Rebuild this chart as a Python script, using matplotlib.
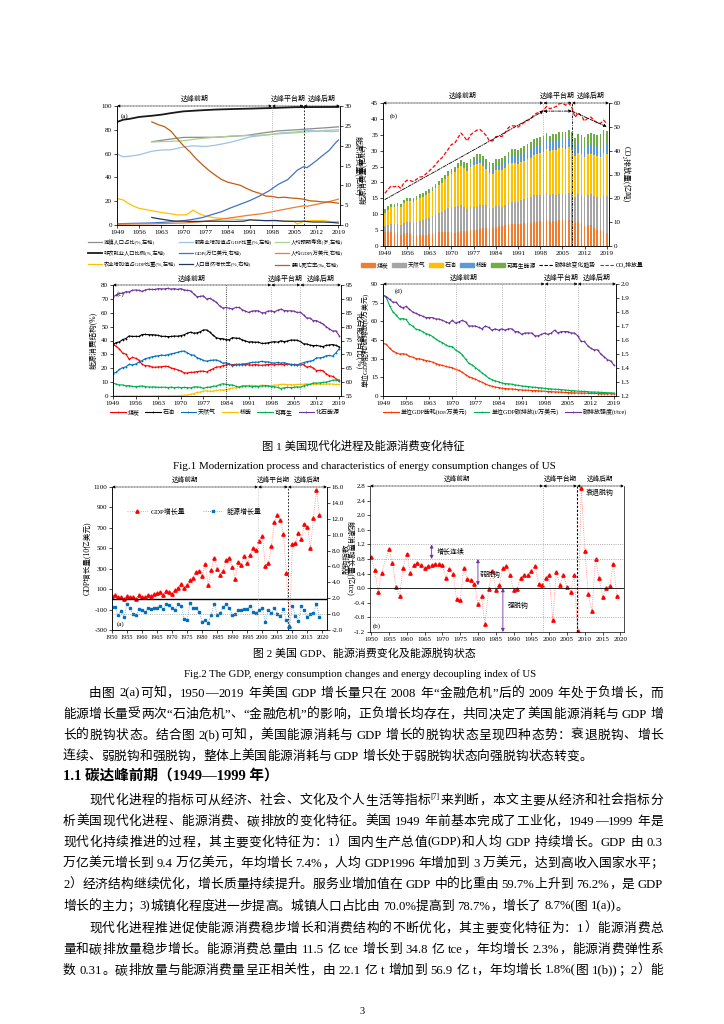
import matplotlib
matplotlib.use('Agg')
import numpy as np
import matplotlib.pyplot as plt
from matplotlib.lines import Line2D
from matplotlib.patches import Patch

plt.rcParams['font.family'] = ['Liberation Serif', 'Noto Sans CJK SC', 'DejaVu Sans']
plt.rcParams['axes.unicode_minus'] = False
plt.rcParams['axes.linewidth'] = 0.5
plt.rcParams['xtick.major.width'] = 0.5
plt.rcParams['ytick.major.width'] = 0.5
plt.rcParams['xtick.major.size'] = 2
plt.rcParams['ytick.major.size'] = 2
plt.rcParams['xtick.labelsize'] = 5
plt.rcParams['ytick.labelsize'] = 5
plt.rcParams['xtick.major.pad'] = 1.5
plt.rcParams['ytick.major.pad'] = 1.5

W, H = 724, 1024

# ---------------- 图1(a) 现代化指标 ----------------
yrs_nonagri = [1949, 1951, 1953, 1956, 1960, 1963, 1966, 1970, 1975, 1980, 1985, 1991, 1998, 2005, 2012, 2019]
nonagri = [86.6, 88.5, 89.2, 90.8, 91.8, 92.7, 94.0, 95.5, 96.3, 97.0, 97.4, 97.8, 98.3, 99.0, 99.1, 99.2]
yrs_urban = [1960, 1965, 1970, 1975, 1980, 1985, 1990, 1995, 2000, 2005, 2010, 2015, 2019]
urban = [70.0, 71.9, 73.6, 73.7, 73.7, 74.5, 75.3, 77.3, 79.1, 79.9, 80.8, 81.7, 82.5]
yrs_life = [1960, 1965, 1970, 1975, 1980, 1985, 1990, 1995, 2000, 2005, 2010, 2014, 2017, 2019]
life = [69.8, 70.2, 70.8, 72.6, 73.7, 74.7, 75.2, 75.6, 76.6, 77.4, 78.5, 78.9, 78.5, 78.8]
yrs_service = [1949, 1951, 1953, 1956, 1960, 1963, 1966, 1970, 1973, 1977, 1980, 1984, 1987, 1991,
               1995, 1998, 2001, 2005, 2009, 2012, 2015, 2019]
service = [59.7, 57.3, 57.8, 59.0, 62.0, 63.0, 63.2, 65.5, 66.5, 66.0, 67.0, 69.0, 71.0, 74.0,
           75.3, 76.2, 77.5, 78.0, 79.5, 79.0, 79.5, 80.0]
yrs_gdp = [1949, 1952, 1955, 1958, 1961, 1964, 1967, 1970, 1973, 1976, 1979, 1982, 1985, 1988,
           1991, 1994, 1997, 2000, 2003, 2006, 2008, 2009, 2010, 2012, 2014, 2016, 2018, 2019]
gdp = [0.27, 0.37, 0.43, 0.48, 0.56, 0.69, 0.86, 1.07, 1.43, 1.87, 2.63, 3.34, 4.34, 5.24,
       6.16, 7.29, 8.58, 10.25, 11.46, 13.82, 14.71, 14.45, 14.99, 16.20, 17.53, 18.75, 20.61, 21.43]
yrs_pcgdp = [1949, 1955, 1960, 1965, 1970, 1975, 1980, 1985, 1990, 1995, 2000, 2005, 2008, 2009, 2010, 2015, 2018, 2019]
pcgdp = [0.18, 0.26, 0.30, 0.38, 0.52, 0.78, 1.26, 1.82, 2.39, 2.87, 3.65, 4.42, 4.85, 4.72, 4.87, 5.69, 6.30, 6.53]
yrs_agri = [1949, 1951, 1953, 1955, 1956, 1958, 1960, 1963, 1966, 1968, 1971, 1973, 1975, 1977,
            1980, 1985, 1991, 1998, 2003, 2005, 2006, 2008, 2011, 2015, 2017, 2019]
agri = [22.3, 21.0, 17.5, 15.0, 14.0, 13.0, 12.0, 10.5, 9.5, 8.5, 8.5, 12.5, 9.5, 7.5,
        6.0, 5.0, 4.2, 3.5, 3.2, 3.0, 0.8, 3.2, 3.8, 3.5, 2.6, 3.0]
yrs_pop = [1960, 1962, 1964, 1966, 1968, 1970, 1972, 1975, 1978, 1980, 1983, 1986, 1989, 1991,
           1993, 1996, 1999, 2002, 2005, 2008, 2011, 2014, 2017, 2019]
popgrow = [1.9, 1.6, 1.35, 1.1, 0.95, 1.0, 0.9, 0.9, 0.95, 0.95, 0.95, 0.9, 0.95, 1.3,
           1.2, 1.1, 1.15, 0.95, 0.92, 0.95, 0.75, 0.75, 0.65, 0.5]
yrs_infant = [1960, 1962, 1964, 1966, 1968, 1970, 1972, 1974, 1976, 1978, 1980, 1982, 1984, 1986, 1988,
              1990, 1992, 1994, 1996, 1998, 2000, 2002, 2004, 2006, 2008, 2010, 2012, 2014, 2016, 2018, 2019]
infant = [26.0, 25.3, 24.8, 23.7, 21.8, 20.0, 18.5, 16.7, 15.2, 13.8, 12.6, 11.5, 10.8, 10.4, 10.0,
          9.2, 8.5, 8.0, 7.3, 7.2, 6.9, 7.0, 6.8, 6.7, 6.5, 6.1, 6.0, 5.8, 5.8, 5.6, 5.5]

# ---------------- 图1(b) 能源消费结构(亿tce), 1949-2019 ----------------
years = list(range(1949, 2020))
coal = [4.3, 4.5, 4.5, 4.1, 4.1, 3.5, 4.0, 4.1, 3.9, 3.4,
        3.4, 3.5, 3.5, 3.6, 3.7, 3.9, 4.2, 4.4, 4.3, 4.4,
        4.5, 4.4, 4.2, 4.3, 4.7, 4.6, 4.6, 4.9, 5.0, 5.0,
        5.4, 5.6, 5.7, 5.5, 5.7, 6.1, 6.3, 6.2, 6.5, 6.8,
        6.8, 6.9, 6.8, 6.9, 7.1, 7.2, 7.2, 7.6, 7.7, 7.8,
        7.8, 8.1, 7.9, 7.9, 8.0, 8.1, 8.2, 8.1, 8.2, 8.1,
        7.1, 7.5, 7.1, 6.3, 6.5, 6.5, 5.6, 5.1, 5.0, 4.8, 4.1]
gas = [1.9, 2.1, 2.5, 2.7, 2.8, 3.0, 3.2, 3.5, 3.7, 3.8,
       4.2, 4.5, 4.7, 4.9, 5.2, 5.5, 5.7, 6.1, 6.5, 6.9,
       7.4, 7.8, 8.1, 8.2, 8.1, 7.8, 7.2, 7.3, 7.2, 7.2,
       7.4, 7.3, 7.1, 6.6, 6.2, 6.6, 6.4, 6.0, 6.3, 6.6,
       7.1, 7.1, 7.2, 7.5, 7.6, 7.8, 8.2, 8.3, 8.4, 8.2,
       8.2, 8.6, 8.2, 8.5, 8.2, 8.2, 8.1, 8.0, 8.5, 8.6,
       8.4, 8.9, 9.0, 9.4, 9.7, 9.9, 10.2, 10.2, 10.1, 11.2, 11.6]
oil = [4.3, 4.8, 5.2, 5.4, 5.6, 5.7, 6.2, 6.5, 6.5, 6.7,
       7.0, 7.2, 7.3, 7.6, 7.8, 8.0, 8.4, 8.8, 9.1, 9.7,
       10.2, 10.6, 11.0, 11.9, 12.5, 12.0, 11.8, 12.7, 13.4, 13.7,
       13.4, 12.3, 11.5, 10.9, 10.8, 11.2, 11.1, 11.6, 11.8, 12.3,
       12.3, 12.1, 11.8, 12.1, 12.2, 12.4, 12.4, 12.8, 13.0, 13.3,
       13.6, 13.8, 13.7, 13.7, 14.0, 14.5, 14.5, 14.4, 14.3, 13.4,
       12.7, 13.0, 12.7, 12.4, 12.6, 12.6, 12.8, 12.9, 13.0, 13.3, 13.3]
nuclear = [0, 0, 0, 0, 0, 0, 0, 0, 0, 0,
           0, 0, 0.01, 0.01, 0.01, 0.01, 0.01, 0.02, 0.03, 0.05,
           0.05, 0.09, 0.15, 0.21, 0.33, 0.46, 0.68, 0.76, 0.97, 1.09,
           1.0, 0.99, 1.08, 1.13, 1.15, 1.28, 1.47, 1.58, 1.71, 2.01,
           2.02, 2.2, 2.31, 2.33, 2.31, 2.41, 2.55, 2.55, 2.38, 2.55,
           2.74, 2.83, 2.89, 2.93, 2.87, 2.96, 2.94, 2.96, 3.05, 3.03,
           3.01, 3.03, 2.98, 2.9, 2.98, 3.0, 3.0, 3.03, 3.03, 3.04, 3.04]
renew = [1.07, 1.07, 1.07, 1.06, 1.0, 0.99, 1.0, 1.03, 1.03, 1.11,
         1.07, 1.05, 1.07, 1.13, 1.11, 1.17, 1.22, 1.25, 1.36, 1.37,
         1.5, 1.47, 1.54, 1.58, 1.59, 1.72, 1.7, 1.72, 1.53, 1.81,
         1.86, 1.98, 1.97, 2.16, 2.34, 2.32, 2.19, 2.2, 2.02, 1.85,
         2.23, 2.17, 2.19, 2.1, 2.19, 2.16, 2.36, 2.52, 2.53, 2.34,
         2.34, 2.2, 1.86, 2.06, 2.19, 2.19, 2.24, 2.37, 2.34, 2.59,
         2.74, 2.91, 3.29, 3.16, 3.35, 3.49, 3.49, 3.73, 4.01, 4.13, 4.13]
co2 = [22.1, 23.8, 25.2, 24.8, 25.3, 24.2, 26.5, 27.6, 27.4, 27.0,
       28.0, 28.9, 29.1, 30.3, 31.5, 32.8, 34.1, 35.9, 37.0, 38.8,
       40.6, 42.6, 43.0, 45.3, 47.4, 45.9, 44.1, 46.6, 47.7, 48.6,
       48.9, 47.7, 46.3, 44.0, 44.1, 45.9, 46.0, 46.0, 47.7, 49.7,
       50.4, 50.4, 49.9, 50.9, 51.9, 52.7, 53.2, 55.0, 55.8, 56.2,
       56.9, 58.6, 57.6, 58.0, 58.5, 59.7, 59.9, 59.1, 60.0, 58.0,
       54.0, 55.9, 54.6, 52.4, 53.6, 54.1, 52.6, 51.7, 51.4, 52.8, 51.3]
trend_years = [1949, 1999, 2008, 2019]
trend_co2 = [19.5, 56.6, 56.6, 50.0]

# ---------------- 图1(c) 能源消费结构占比(%) ----------------
coal_pct = [37.5, 35.7, 33.9, 30.8, 30.2, 26.5, 27.8, 27.2, 25.9, 22.8,
            21.9, 21.8, 21.0, 20.7, 21.0, 21.1, 21.4, 21.3, 20.2, 19.7,
            18.8, 18.1, 16.7, 16.6, 17.1, 17.1, 17.6, 17.9, 17.9, 17.3,
            18.6, 19.7, 20.9, 21.0, 21.8, 22.3, 22.9, 22.6, 22.8, 22.9,
            22.4, 22.7, 22.5, 22.3, 22.7, 22.4, 22.1, 22.4, 22.7, 22.8,
            22.4, 22.9, 22.8, 22.5, 22.8, 22.5, 22.8, 22.6, 22.5, 22.6,
            20.8, 21.3, 20.2, 18.3, 18.5, 18.3, 16.0, 14.6, 14.2, 12.5, 10.5]
oil_pct = [37.1, 38.5, 39.0, 40.7, 41.4, 43.3, 42.9, 43.0, 42.9, 44.3,
           44.4, 44.2, 44.2, 44.0, 43.7, 43.0, 43.0, 42.8, 42.9, 43.2,
           43.1, 43.5, 44.1, 45.3, 46.0, 45.3, 45.5, 46.3, 47.6, 47.6,
           46.0, 43.8, 42.0, 41.4, 41.3, 40.6, 40.5, 42.1, 41.7, 41.6,
           40.5, 39.7, 38.9, 39.1, 38.7, 38.9, 37.9, 38.0, 38.3, 38.8,
           39.2, 38.8, 39.8, 39.2, 39.6, 40.3, 40.3, 40.2, 39.3, 37.6,
           37.5, 36.7, 36.3, 36.4, 36.0, 35.6, 36.5, 36.8, 37.1, 36.5, 35.5]
gas_pct = [16.1, 17.2, 19.1, 20.5, 21.0, 22.8, 22.4, 23.0, 24.4, 25.5,
           26.9, 27.5, 28.2, 28.7, 29.0, 29.5, 29.2, 29.8, 30.4, 30.8,
           31.5, 32.1, 32.4, 31.2, 29.8, 29.4, 27.7, 26.8, 25.6, 25.1,
           25.6, 25.9, 26.0, 25.1, 23.6, 24.0, 23.2, 21.7, 22.4, 22.4,
           23.2, 23.2, 23.7, 24.2, 24.3, 24.4, 25.0, 24.6, 24.6, 24.1,
           23.7, 24.2, 23.7, 24.1, 23.3, 22.9, 22.5, 22.3, 23.4, 24.0,
           24.8, 25.1, 25.6, 27.5, 27.5, 27.8, 29.0, 29.2, 28.7, 31.0, 34.0]
nuc_pct = [0, 0, 0, 0, 0, 0, 0, 0, 0, 0,
           0, 0, 0, 0.1, 0.1, 0.1, 0.1, 0.1, 0.2, 0.2,
           0.2, 0.4, 0.6, 0.8, 1.2, 1.7, 2.6, 2.8, 3.5, 3.8,
           3.4, 3.5, 4.0, 4.3, 4.4, 4.6, 5.4, 5.7, 6.0, 6.8,
           6.6, 7.2, 7.6, 7.6, 7.3, 7.5, 7.8, 7.6, 7.0, 7.5,
           7.9, 8.0, 8.4, 8.4, 8.1, 8.2, 8.1, 8.3, 8.4, 8.5,
           8.8, 8.6, 8.5, 8.5, 8.5, 8.5, 8.6, 8.7, 8.6, 8.3, 8.4]
ren_pct = [9.3, 8.6, 8.0, 8.0, 7.4, 7.5, 6.9, 6.8, 6.9, 7.3,
           6.8, 6.5, 6.5, 6.6, 6.2, 6.3, 6.3, 6.1, 6.4, 6.1,
           6.3, 6.0, 6.2, 6.1, 5.9, 6.5, 6.6, 6.3, 5.5, 6.3,
           6.4, 7.0, 7.2, 8.2, 8.9, 8.4, 8.0, 8.0, 7.1, 6.3,
           7.3, 7.2, 7.2, 6.8, 7.0, 6.7, 7.2, 7.5, 7.4, 6.8,
           6.7, 6.2, 5.4, 5.9, 6.2, 6.1, 6.2, 6.6, 6.4, 7.3,
           8.1, 8.3, 9.4, 9.3, 9.5, 9.8, 10.0, 10.6, 11.4, 11.4, 11.8]
fossil_pct = [90.7, 91.4, 92.0, 92.0, 92.6, 92.5, 93.1, 93.2, 93.1, 92.7,
              93.2, 93.5, 93.4, 93.4, 93.7, 93.6, 93.6, 93.8, 93.5, 93.7,
              93.4, 93.7, 93.2, 93.1, 92.9, 91.8, 90.8, 90.9, 91.1, 89.9,
              90.2, 89.5, 88.8, 87.5, 86.7, 86.9, 86.6, 86.4, 86.9, 86.9,
              86.1, 85.6, 85.1, 85.6, 85.7, 85.7, 85.0, 85.0, 85.6, 85.7,
              85.3, 85.9, 86.3, 85.8, 85.7, 85.7, 85.6, 85.1, 85.2, 84.2,
              83.1, 83.1, 82.1, 82.2, 81.5, 81.0, 80.0, 79.2, 78.4, 78.5, 76.8]

# ---------------- 图1(d) 强度指标 ----------------
energy_int = [42.3, 41.5, 38.4, 36.0, 34.8, 33.7, 34.0, 33.5, 31.8, 31.3,
              30.0, 29.9, 29.3, 28.5, 28.0, 27.2, 26.1, 25.2, 24.6, 23.8,
              23.2, 22.8, 21.4, 20.5, 19.1, 17.2, 15.4, 14.6, 13.5, 12.2,
              11.1, 9.8, 8.5, 7.9, 7.2, 6.8, 6.3, 6.0, 5.8, 5.7,
              5.4, 5.1, 4.9, 4.7, 4.6, 4.4, 4.3, 4.2, 4.0, 3.8,
              3.6, 3.5, 3.3, 3.2, 3.1, 2.9, 2.8, 2.6, 2.5, 2.4,
              2.4, 2.4, 2.3, 2.1, 2.1, 2.0, 1.9, 1.9, 1.8, 1.8, 1.7]
carbon_int = [81.3, 79.3, 72.6, 67.6, 65.0, 61.9, 62.2, 61.5, 57.8, 56.1,
              53.6, 53.2, 51.7, 50.1, 49.4, 47.8, 45.8, 44.0, 42.9, 41.1,
              39.8, 39.7, 36.9, 35.4, 33.2, 29.7, 26.2, 24.9, 22.9, 20.7,
              18.6, 16.7, 14.4, 13.2, 12.1, 11.4, 10.6, 10.0, 9.8, 9.5,
              8.9, 8.5, 8.1, 7.8, 7.6, 7.2, 7.0, 6.8, 6.5, 6.2,
              5.9, 5.7, 5.4, 5.3, 5.1, 4.9, 4.6, 4.3, 4.2, 3.9,
              3.7, 3.7, 3.5, 3.2, 3.2, 3.1, 2.9, 2.8, 2.6, 2.6, 2.4]
co2_per_tce = [1.92, 1.91, 1.89, 1.87, 1.87, 1.84, 1.83, 1.84, 1.82, 1.80,
               1.79, 1.78, 1.77, 1.76, 1.76, 1.76, 1.75, 1.75, 1.74, 1.73,
               1.72, 1.74, 1.72, 1.73, 1.74, 1.73, 1.70, 1.70, 1.70, 1.69,
               1.68, 1.70, 1.69, 1.67, 1.68, 1.67, 1.68, 1.67, 1.68, 1.68,
               1.66, 1.66, 1.64, 1.65, 1.65, 1.65, 1.63, 1.63, 1.64, 1.65,
               1.64, 1.65, 1.67, 1.65, 1.66, 1.66, 1.66, 1.65, 1.65, 1.63,
               1.59, 1.59, 1.56, 1.54, 1.53, 1.53, 1.50, 1.48, 1.46, 1.45, 1.42]

# ---------------- 图2(a) GDP与能源增长量 ----------------
years_g = list(range(1950, 2020))
gdp_inc = [28, 47, 20, 22, 2, 35, 23, 25, 7, 41,
           21, 20, 42, 33, 48, 58, 71, 47, 81, 76,
           54, 92, 115, 149, 116, 139, 189, 209, 270, 275,
           230, 350, 136, 291, 403, 302, 241, 275, 381, 406,
           321, 195, 362, 339, 428, 353, 433, 505, 485, 568,
           621, 330, 354, 522, 756, 823, 778, 637, 261, -264,
           543, 551, 654, 588, 742, 711, 507, 798, 1069, 821]
energy_inc = [0.95, 0.86, -0.09, 0.33, -0.37, 1.29, 0.73, -0.01, -0.09, 0.64,
              0.48, 0.23, 0.75, 0.65, 0.78, 0.79, 1.08, 0.68, 1.26, 1.15,
              0.80, 0.52, 1.23, 1.08, -0.62, -0.73, 1.44, 0.71, 0.72, 0.32,
              -1.00, -0.71, -1.08, -0.05, 1.32, -0.09, 0.09, 0.87, 1.32, 0.75,
              -0.11, -0.02, 0.51, 0.57, 0.60, 0.69, 1.05, 0.24, 0.17, 0.55,
              0.76, -0.95, 0.55, 0.13, 0.77, 0.04, -0.23, 0.59, -0.80, -1.61,
              1.07, -0.26, -0.91, 0.97, 0.49, -0.35, -0.01, 0.15, 1.23, -0.31]

# ---------------- 图2(b) 脱钩指数 ----------------
years_dc = [1950, 1951, 1952, 1953] + list(range(1955, 2020))
decouple = [0.86, 0.49, -0.10, 0.43,
            1.08, 0.70, 0.03, -0.21, 0.56, 0.95, 0.43, 0.63, 0.70, 0.63,
            0.54, 0.61, 0.63, 0.66, 0.65, 0.64, 0.28, 0.52, 0.40, -0.29,
            -0.32, 0.54, 0.26, 0.23, 0.12, -0.42, -0.21, -0.99, -0.02, 0.47,
            -0.04, 0.08, 0.56, 0.61, 0.36, -0.06, -0.01, 0.28, 0.37, 0.36,
            0.47, 0.61, 0.12, 0.08, 0.29, 0.37, -0.87, 0.45, 0.08, 0.37,
            0.03, -0.10, 0.36, -1.18, 2.75, 1.01, -0.17, -0.63, 0.81, 0.28,
            -0.24, 0.00, 0.07, 0.67, -0.21]
dc_arrow_x = [1967, 1980, 1987]
dc_arrow_from = [0.8, 0.08, 0.0]
dc_arrow_to = [1.2, 0.8, -1.2]

# ---------------- 正文 ----------------
body = [
    (89, 692, '由图 2(a)可知，1950—2019 年美国 GDP 增长量只在 2008 年“金融危机”后的 2009 年处于负增长，而', True),
    (63, 713, '能源增长量受两次“石油危机”、“金融危机”的影响，正负增长均存在，共同决定了美国能源消耗与 GDP 增', True),
    (63, 734, '长的脱钩状态。结合图 2(b)可知，美国能源消耗与 GDP 增长的脱钩状态呈现四种态势：衰退脱钩、增长', True),
    (63, 755, '连续、弱脱钩和强脱钩，整体上美国能源消耗与 GDP 增长处于弱脱钩状态向强脱钩状态转变。', False),
    (89, 799, '现代化进程的指标可从经济、社会、文化及个人生活等指标[7]来判断，本文主要从经济和社会指标分', True),
    (63, 820, '析美国现代化进程、能源消费、碳排放的变化特征。美国 1949 年前基本完成了工业化，1949—1999 年是', True),
    (63, 841, '现代化持续推进的过程，其主要变化特征为：1）国内生产总值(GDP)和人均 GDP 持续增长。GDP 由 0.3', True),
    (63, 862, '万亿美元增长到 9.4 万亿美元，年均增长 7.4%，人均 GDP1996 年增加到 3 万美元，达到高收入国家水平；', True),
    (63, 883, '2）经济结构继续优化，增长质量持续提升。服务业增加值在 GDP 中的比重由 59.7%上升到 76.2%，是 GDP', True),
    (63, 905, '增长的主力；3)城镇化程度进一步提高。城镇人口占比由 70.0%提高到 78.7%，增长了 8.7%(图 1(a))。', False),
    (89, 927, '现代化进程推进促使能源消费稳步增长和消费结构的不断优化，其主要变化特征为：1）能源消费总', True),
    (63, 948, '量和碳排放量稳步增长。能源消费总量由 11.5 亿 tce 增长到 34.8 亿 tce，年均增长 2.3%，能源消费弹性系', True),
    (63, 969, '数 0.31。碳排放量与能源消费量呈正相关性，由 22.1 亿 t 增加到 56.9 亿 t，年均增长 1.8%(图 1(b))；2）能', True),
]
RIGHT = 663
BODY_FS = 9.2

fig = plt.figure(figsize=(W / 100, H / 100), dpi=100)
page = fig.add_axes([0, 0, 1, 1])
page.set_xlim(0, W)
page.set_ylim(H, 0)
page.axis('off')
renderer = fig.canvas.get_renderer()


def box(l, t, r, b):
    return fig.add_axes([l / W, 1 - b / H, (r - l) / W, (b - t) / H])


def periods(ax, bounds, fs=5):
    names = ['达峰前期', '达峰平台期', '达峰后期']
    tr = ax.get_xaxis_transform()
    for i in range(3):
        ax.annotate('', xy=(bounds[i + 1], 1.0), xytext=(bounds[i], 1.0), xycoords=tr, textcoords=tr,
                    arrowprops=dict(arrowstyle='<|-|>', color='k', lw=0.5, ls=(0, (1, 1.2)),
                                    mutation_scale=4, shrinkA=0, shrinkB=0),
                    annotation_clip=False)
        ax.text((bounds[i] + bounds[i + 1]) / 2, 1.03, names[i], transform=tr,
                ha='center', va='bottom', fontsize=fs)


def finish(ax, axr):
    for a in (ax, axr):
        a.spines['top'].set_visible(False)


# ---- 图1(a)
ax = box(117, 106, 340, 225)
axr = ax.twinx()
h1 = ax.plot(yrs_urban, urban, color='#8C8C8C', lw=0.9)[0]
h2 = ax.plot(yrs_service, service, color='#9DC3E6', lw=0.9)[0]
h3 = ax.plot(yrs_life, life, color='#A9D18E', lw=0.9)[0]
h4 = ax.plot(yrs_nonagri, nonagri, color='#1A1A1A', lw=1.3)[0]
h5 = axr.plot(yrs_gdp, gdp, color='#4472C4', lw=0.9)[0]
h6 = axr.plot(yrs_pcgdp, pcgdp, color='#ED7D31', lw=0.9)[0]
h7 = ax.plot(yrs_agri, agri, color='#FFC000', lw=0.9)[0]
h8 = axr.plot(yrs_pop, popgrow, color='#203864', lw=0.9)[0]
h9 = axr.plot(yrs_infant, infant, color='#C55A11', lw=0.9)[0]
ax.set_xlim(1949, 2019.5)
ax.set_ylim(0, 100)
axr.set_ylim(0, 30)
ax.set_xticks(range(1949, 2020, 7))
ax.set_yticks(range(0, 101, 20))
axr.set_yticks(range(0, 31, 5))
axr.set_ylabel('能源消费量(亿tce)', fontsize=5.5, rotation=270, labelpad=7)
ax.text(0.015, 0.9, '(a)', transform=ax.transAxes, fontsize=5)
ax.axvline(1998, color='#A0A0A0', ls=':', lw=0.6)
ax.axvline(2008, color='k', ls=(0, (2, 2)), lw=0.6)
periods(ax, [1949, 1998, 2008, 2019.5])
finish(ax, axr)
labels_a = ['城镇人口占比(%,左轴)', '服务业增加值占GDP比重(%,左轴)', '人均预期寿命(岁,左轴)',
            '非农就业人口比例(%,左轴)', 'GDP(万亿美元,右轴)', '人均GDP(万美元,右轴)',
            '农业增加值占GDP比重(%,左轴)', '人口自然增长率(%,右轴)', '婴儿死亡率(‰,右轴)']
hs = [h1, h2, h3, h4, h5, h6, h7, h8, h9]
order = [0, 3, 6, 1, 4, 7, 2, 5, 8]
fig.legend([hs[i] for i in order], [labels_a[i] for i in order], ncol=3, loc='upper left',
           bbox_to_anchor=(86 / W, 1 - 237 / H), fontsize=3.8, frameon=False, handlelength=2.6,
           columnspacing=0.6, labelspacing=1.0, borderaxespad=0, handletextpad=0.4)

# ---- 图1(b)
ax = box(383, 103, 609, 246)
axr = ax.twinx()
bottom = np.zeros(len(years))
stack = [(coal, '#ED7D31', '煤炭'), (gas, '#A5A5A5', '天然气'), (oil, '#FFC000', '石油'),
         (nuclear, '#5B9BD5', '核能'), (renew, '#70AD47', '可再生能源')]
handles_b = []
for vals, col, lab in stack:
    ax.bar(years, vals, bottom=bottom, width=0.55, color=col, linewidth=0)
    bottom = bottom + np.array(vals)
    handles_b.append(Patch(color=col, label=lab))
axr.plot(years, co2, color='#FF0000', ls=(0, (3, 1.5)), lw=0.9)
for i in range(3):
    axr.annotate('', xy=(trend_years[i + 1], trend_co2[i + 1]), xytext=(trend_years[i], trend_co2[i]),
                 arrowprops=dict(arrowstyle='<|-|>' if i == 1 else '-|>', color='k', lw=0.6,
                                 ls=(0, (4, 1.5, 1, 1.5)), mutation_scale=4, shrinkA=0, shrinkB=0))
ax.set_xlim(1948.4, 2019.7)
ax.set_ylim(0, 45)
axr.set_ylim(0, 60)
ax.set_xticks(range(1949, 2020, 7))
ax.set_yticks(range(0, 46, 5))
axr.set_yticks(range(0, 61, 10))
ax.set_ylabel('能源消费量(亿tce)', fontsize=5.5, labelpad=2)
axr.set_ylabel('CO₂排放量(亿吨)', fontsize=5.5, rotation=270, labelpad=7)
ax.text(0.03, 0.9, '(b)', transform=ax.transAxes, fontsize=5)
ax.axvline(1999, color='#A0A0A0', ls=':', lw=0.6)
ax.axvline(2008, color='k', ls=(0, (3, 1.5, 1, 1.5)), lw=0.6)
periods(ax, [1948.4, 1999, 2008, 2019.7])
finish(ax, axr)
handles_b.append(Line2D([], [], color='k', ls=(0, (3, 1.5)), lw=0.8, label='碳排放变化趋势'))
handles_b.append(Line2D([], [], color='#FF0000', ls=(0, (3, 1.5)), lw=0.8, label='CO₂排放量'))
fig.legend(handles=handles_b, ncol=7, loc='center', bbox_to_anchor=(502 / W, 1 - 265 / H), fontsize=4.2,
           frameon=False, handlelength=2.4, handleheight=0.6, columnspacing=0.6, handletextpad=0.3,
           borderaxespad=0)

# ---- 图1(c)
ax = box(113, 285, 341, 396)
axr = ax.twinx()
kw = dict(marker='+', ms=2.0, mew=0.5, lw=0.8)
hc = [ax.plot(years, coal_pct, color='#FF0000', label='煤炭', **kw)[0],
      ax.plot(years, oil_pct, color='#000000', label='石油', **kw)[0],
      ax.plot(years, gas_pct, color='#0070C0', label='天然气', **kw)[0],
      ax.plot(years, nuc_pct, color='#FFC000', label='核能', **kw)[0],
      ax.plot(years, ren_pct, color='#00B050', label='可再生', **kw)[0],
      axr.plot(years, fossil_pct, color='#7030A0', label='化石能源', **kw)[0]]
ax.set_xlim(1949, 2019.6)
ax.set_ylim(0, 80)
axr.set_ylim(55, 95)
ax.set_xticks(range(1949, 2020, 7))
ax.set_yticks(range(0, 81, 10))
axr.set_yticks(range(55, 96, 5))
ax.set_ylabel('能源消费结构(%)', fontsize=5.5, labelpad=2)
axr.set_ylabel('化石能源占比(%)', fontsize=5.5, rotation=270, labelpad=7)
ax.text(0.015, 0.9, '(c)', transform=ax.transAxes, fontsize=5)
ax.axvline(1984, color='k', ls=':', lw=0.6)
ax.axvline(1998, color='#A0A0A0', ls=':', lw=0.6)
ax.axvline(2007, color='#A0A0A0', ls=':', lw=0.6)
periods(ax, [1949, 1998, 2007, 2019.6])
finish(ax, axr)
fig.legend(handles=hc, ncol=6, loc='center', bbox_to_anchor=(225 / W, 1 - 412 / H), fontsize=4.3,
           frameon=False, handlelength=2.6, columnspacing=1.0, handletextpad=0.3, borderaxespad=0)

# ---- 图1(d)
ax = box(383, 284, 616, 396)
axr = ax.twinx()
hd = [ax.plot(years, energy_int, color='#FF3300', label='单位GDP能耗(tce/万美元)', **kw)[0],
      ax.plot(years, carbon_int, color='#00B050', label='单位GDP碳排放(t/万美元)', **kw)[0],
      axr.plot(years, co2_per_tce, color='#7030A0', label='碳排放强度(t/tce)', **kw)[0]]
ax.set_xlim(1949, 2019.6)
ax.set_ylim(0, 90)
axr.set_ylim(1.2, 2.0)
ax.set_xticks(range(1949, 2020, 7))
ax.set_yticks(range(0, 91, 15))
rt = [1.2, 1.3, 1.4, 1.5, 1.6, 1.7, 1.8, 1.9, 2.0]
axr.set_yticks(rt)
axr.set_yticklabels(['%.1f' % v for v in rt])
ax.set_ylabel('单位GDP能耗/碳排放(t/万美元)', fontsize=5, labelpad=2)
ax.text(0.05, 0.92, '(d)', transform=ax.transAxes, fontsize=5)
for xv in (1971, 1985, 1998, 2008):
    ax.axvline(xv, color='#A0A0A0', ls=':', lw=0.6)
periods(ax, [1949, 1998, 2008, 2019.6])
finish(ax, axr)
fig.legend(handles=hd, ncol=3, loc='center', bbox_to_anchor=(505 / W, 1 - 412 / H), fontsize=4.3,
           frameon=False, handlelength=2.6, columnspacing=1.2, handletextpad=0.3, borderaxespad=0)

# ---- 图2(a)
ax = box(112, 487, 327, 630)
axr = ax.twinx()
g1 = ax.plot(years_g, gdp_inc, color='#FF8080', ls=':', lw=0.6, marker='^', ms=2.4,
             mfc='#FF0000', mec='#FF0000', label='GDP增长量')[0]
g2 = axr.plot(years_g, energy_inc, color='#5B9BD5', ls=':', lw=0.6, marker='s', ms=1.7,
              mfc='#0070C0', mec='#0070C0', label='能源增长量')[0]
ax.axhline(0, color='k', lw=1.0)
axr.axhline(0, color='#A0A0A0', ls=':', lw=0.6)
ax.set_xlim(1950, 2021.5)
ax.set_ylim(-300, 1100)
axr.set_ylim(-2, 16)
ax.set_xticks(range(1950, 2021, 5))
ax.set_yticks(range(-300, 1101, 200))
rt = list(range(-2, 17, 2))
axr.set_yticks(rt)
axr.set_yticklabels(['%.1f' % v for v in rt])
ax.tick_params(axis='x', labelsize=4.5)
ax.set_ylabel('GDP增长量(10亿美元)', fontsize=5.5, labelpad=1)
axr.set_ylabel('能源消费增长量(亿tce)', fontsize=5.5, rotation=270, labelpad=7)
ax.text(0.02, 0.03, '(a)', transform=ax.transAxes, fontsize=5)
ax.axvline(1998.6, color='#C0C0C0', ls=':', lw=0.6)
ax.axvline(2008.5, color='k', ls=(0, (2, 2)), lw=0.6)
periods(ax, [1950, 1998.6, 2008.5, 2021.5], fs=4.8)
finish(ax, axr)
ax.legend(handles=[g1, g2], ncol=2, loc='upper left', bbox_to_anchor=(0.04, 0.9), fontsize=5,
          frameon=False, handlelength=3, columnspacing=2.5, handletextpad=0.4)

# ---- 图2(b)
ax = box(370, 486, 624, 632)
ax.plot(years_dc, decouple, color='#FF8080', ls=':', lw=0.6, marker='^', ms=2.4,
        mfc='#FF0000', mec='#FF0000')
for yv in (1.2, 0.8, -0.8):
    ax.axhline(yv, color='#909090', ls=':', lw=0.6)
ax.axhline(0, color='k', lw=0.6)
for xa, y0, y1 in zip(dc_arrow_x, dc_arrow_from, dc_arrow_to):
    ax.annotate('', xy=(xa, y1), xytext=(xa, y0),
                arrowprops=dict(arrowstyle='<|-|>', color='#7030A0', lw=0.6, mutation_scale=5,
                                shrinkA=0, shrinkB=0))
ax.text(1968.3, 1.0, '增长连续', fontsize=5, va='center')
ax.text(1980.6, 0.38, '弱脱钩', fontsize=5, va='center')
ax.text(1988.2, -0.48, '强脱钩', fontsize=5, va='center')
ax.text(2010.3, 2.62, '衰退脱钩', fontsize=5, va='center')
ax.set_xlim(1949.7, 2021)
ax.set_ylim(-1.2, 2.8)
ax.set_xticks(range(1950, 2021, 5))
yt = [-1.2, -0.8, -0.4, 0.0, 0.4, 0.8, 1.2, 1.6, 2.0, 2.4, 2.8]
ax.set_yticks(yt)
ax.set_yticklabels(['%.1f' % v for v in yt])
ax.set_ylabel('脱钩指数', fontsize=5.5, labelpad=2)
ax.text(0.01, 0.03, '(b)', transform=ax.transAxes, fontsize=5)
ax.axvline(1998.3, color='#A0A0A0', ls=':', lw=0.6)
ax.axvline(2007.8, color='k', ls=(0, (2, 1.5)), lw=0.8)
periods(ax, [1949.7, 1998.3, 2007.8, 2021], fs=4.8)
ax.spines['top'].set_visible(False)


# ---------------- 文字 ----------------
def text_w(s, fs, weight='normal'):
    t = page.text(0, 0, s, fontsize=fs, fontweight=weight)
    w = t.get_window_extent(renderer).width
    t.remove()
    return w


def tokens(s):
    out, buf = [], ''
    for ch in s:
        if ch.isascii() and ch != ' ':
            buf += ch
        else:
            if buf:
                out.append(buf)
                buf = ''
            out.append(ch)
    if buf:
        out.append(buf)
    return out


def draw_line(s, x0, y, justify, fs=BODY_FS):
    toks = tokens(s)
    sizes = [fs * 0.6 if t == '[7]' else fs for t in toks]
    base = {}
    ws = []
    for t, sz in zip(toks, sizes):
        if t == ' ':
            ws.append(0.25 * sz * 100 / 72)
            continue
        if sz not in base:
            base[sz] = text_w('||', sz)
        ws.append(text_w('|' + t + '|', sz) - base[sz])
    gap = 0.0
    if justify and len(toks) > 1:
        gap = (RIGHT - x0 - sum(ws)) / (len(toks) - 1)
    # 基线比行中心低约0.36em
    base_y = y + 0.36 * fs * 100 / 72
    x = x0
    for t, sz, w in zip(toks, sizes, ws):
        if t.strip():
            dy = -5 if t == '[7]' else 0
            page.text(x, base_y + dy, t, fontsize=sz, ha='left', va='baseline')
        x += w + gap


def fit_center(s, cx, y, width, fs0):
    w = text_w(s, fs0)
    page.text(cx, y, s, fontsize=fs0 * width / w, ha='center', va='center')


fit_center('图 1 美国现代化进程及能源消费变化特征', 363, 446, 204, 8)
fit_center('Fig.1 Modernization process and characteristics of energy consumption changes of US', 364, 466, 382, 8)
fit_center('图 2 美国 GDP、能源消费变化及能源脱钩状态', 364, 654, 222, 8)
fit_center('Fig.2 The GDP, energy consumption changes and energy decoupling index of US', 360, 674, 352, 8)

for x0, y, s, just in body:
    draw_line(s, x0, y, just)

page.text(63, 776, '1.1 碳达峰前期（1949—1999 年）', fontsize=10.5, fontweight='bold', va='center')
page.text(362, 1011, '3', fontsize=7.5, ha='center', va='center')

fig.savefig('out.png', dpi=100)
